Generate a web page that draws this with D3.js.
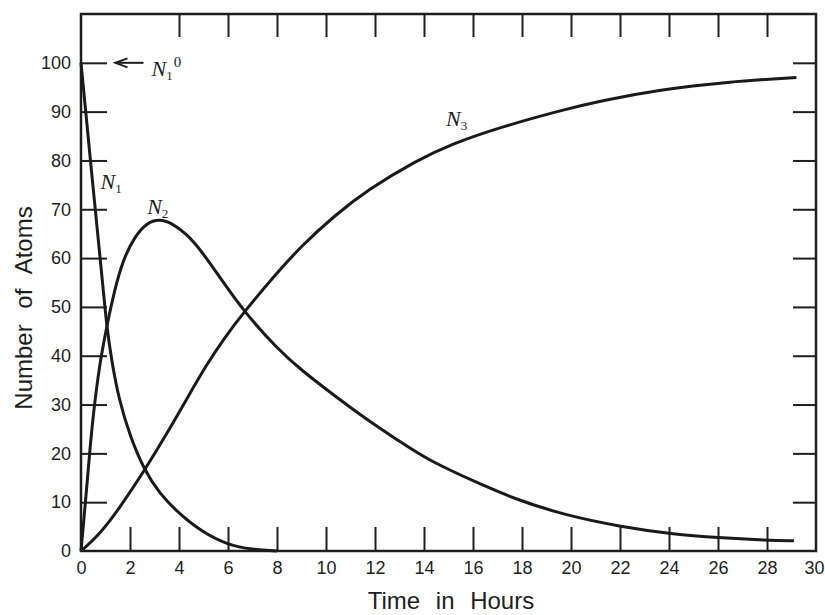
<!DOCTYPE html>
<html lang="en">
<head>
    <meta charset="UTF-8">
    <title>Number of Atoms vs Time</title>
    <script src="https://d3js.org/d3.v7.min.js"></script>
    <style>
        body {
            margin: 0;
            background-color: #fff;
        }
        .frame {
            fill: none;
            stroke: #1e1e1e;
            stroke-width: 2.5px;
        }
        .axis line {
            stroke: #1e1e1e;
            stroke-width: 2px;
        }
        .axis text {
            font-family: "Liberation Sans", Arial, sans-serif;
            font-size: 18px;
            fill: #1e1e1e;
        }
        .curve {
            fill: none;
            stroke: #1a1a1a;
            stroke-width: 3px;
        }
        .axis-title {
            font-family: "Liberation Sans", Arial, sans-serif;
            font-size: 24px;
            word-spacing: 9px;
            fill: #1e1e1e;
        }
        .curve-label {
            font-family: "Liberation Serif", "Times New Roman", serif;
            font-style: italic;
            font-size: 22px;
            fill: #1e1e1e;
        }
    </style>
</head>
<body>
    <div id="chart"></div>

    <script>
        // readings (time in hours, number of atoms)
        const n1Time  = [0, 0.5, 0.9, 1.05, 1.25, 1.55, 2.0, 2.58, 3.2, 3.95, 4.9, 6.0, 7.0, 8.0];
        const n1Value = [100, 74, 54, 46, 39, 31, 23.5, 16.6, 11.8, 7.9, 4.0, 1.2, 0.3, 0];

        const n2Time  = [0, 0.2, 0.35, 0.5, 0.75, 1.05, 1.35, 1.7, 2.2, 2.7, 3.2, 3.7, 4.3, 4.9, 5.7, 6.66, 8.0, 9.0, 10.3, 11.7, 13.0, 14.1, 16.2, 17.8, 19.7, 22.1, 24.1, 26.0, 28.0, 29.1];
        const n2Value = [0, 11, 20, 28, 38, 46, 53, 59.5, 64.5, 67.3, 68, 67.2, 65.0, 61.6, 55.8, 49, 41.5, 37, 32, 26.8, 22.5, 18.8, 13.9, 10.5, 7.4, 4.9, 3.5, 2.7, 2.2, 2.1];

        const n3Time  = [0, 0.8, 1.6, 2.58, 3.5, 4.3, 5.1, 5.9, 6.66, 8.0, 9.0, 10.3, 11.7, 13.7, 15.1, 17.1, 19.7, 21.2, 23.6, 26.4, 29.2];
        const n3Value = [0, 3.6, 9, 16.4, 24, 31, 38, 44, 49, 57, 62.5, 68.5, 74, 80, 83.3, 86.8, 90.4, 92.2, 94.5, 96.1, 97];

        const xTicks = d3.range(0, 31, 2);          // 0 .. 30
        const xTopTicks = d3.range(4, 29, 2);       // top edge only has 4 .. 28
        const yTicks = d3.range(0, 101, 10);        // 0 .. 100
        const yRightTicks = d3.range(10, 101, 10);

        const width = 825;
        const height = 615;

        const svg = d3.select("#chart")
            .append("svg")
            .attr("width", width)
            .attr("height", height);

        const x = d3.scaleLinear().domain([0, 30]).range([81, 816]);
        const y = d3.scaleLinear().domain([0, 110]).range([551, 14]);

        // axes, ticks point inwards
        const xAxis = svg.append("g")
            .attr("class", "axis")
            .attr("transform", `translate(0,${y(0)})`)
            .call(d3.axisBottom(x).tickValues(xTicks).tickSizeInner(-24).tickSizeOuter(0).tickPadding(10));

        const yAxis = svg.append("g")
            .attr("class", "axis")
            .attr("transform", `translate(${x(0)},0)`)
            .call(d3.axisLeft(y).tickValues(yTicks).tickSizeInner(-26).tickSizeOuter(0).tickPadding(10));

        svg.append("g")
            .attr("class", "axis")
            .attr("transform", `translate(0,${y(110)})`)
            .call(d3.axisTop(x).tickValues(xTopTicks).tickSizeInner(-23).tickSizeOuter(0).tickFormat(""));

        svg.append("g")
            .attr("class", "axis")
            .attr("transform", `translate(${x(30)},0)`)
            .call(d3.axisRight(y).tickValues(yRightTicks).tickSizeInner(-23).tickSizeOuter(0).tickFormat(""));

        svg.selectAll(".axis .domain").remove();
        // end ticks would sit on the frame anyway
        xAxis.selectAll(".tick").filter(d => d === 0 || d === 30).select("line").remove();
        yAxis.selectAll(".tick").filter(d => d === 0).select("line").remove();
        // keep the last label inside the page
        xAxis.selectAll(".tick").filter(d => d === 30).select("text")
            .attr("text-anchor", "end")
            .attr("x", 824 - x(30));

        // frame
        svg.append("rect")
            .attr("class", "frame")
            .attr("x", x(0))
            .attr("y", y(110))
            .attr("width", x(30) - x(0))
            .attr("height", y(0) - y(110));

        // curves
        const line = d3.line()
            .x(d => x(d[0]))
            .y(d => y(d[1]))
            .curve(d3.curveBasis);

        const series = [
            d3.zip(n1Time, n1Value),
            d3.zip(n2Time, n2Value),
            d3.zip(n3Time, n3Value)
        ];

        svg.append("g")
            .selectAll("path")
            .data(series)
            .join("path")
            .attr("class", "curve")
            .attr("d", line);

        // arrow pointing at the initial amount
        const arrow = svg.append("g")
            .attr("stroke", "#1e1e1e")
            .attr("stroke-width", 2)
            .attr("fill", "none");
        arrow.append("line")
            .attr("x1", x(1.4)).attr("y1", y(100))
            .attr("x2", x(2.55)).attr("y2", y(100));
        arrow.append("path")
            .attr("d", `M${x(1.9)},${y(100) - 4.5}L${x(1.4)},${y(100)}L${x(1.9)},${y(100) + 4.5}`);

        // curve labels
        function curveLabel(tx, ty, sub, sup) {
            const t = svg.append("text")
                .attr("class", "curve-label")
                .attr("x", tx)
                .attr("y", ty)
                .text("N");
            t.append("tspan")
                .attr("font-size", "13px")
                .attr("font-style", "normal")
                .attr("dy", 4)
                .text(sub);
            if (sup) {
                t.append("tspan")
                    .attr("font-size", "15px")
                    .attr("font-style", "normal")
                    .attr("dx", 1)
                    .attr("dy", -13)
                    .text(sup);
            }
        }

        curveLabel(x(0.8), y(74.2), "1");
        curveLabel(x(2.7), y(69), "2");
        curveLabel(x(14.9), y(87), "3");
        curveLabel(x(2.88), y(97.3), "1", "0");

        // axis titles
        svg.append("text")
            .attr("class", "axis-title")
            .attr("text-anchor", "middle")
            .attr("x", x(15.1))
            .attr("y", 609)
            .text("Time in Hours");

        svg.append("text")
            .attr("class", "axis-title")
            .attr("text-anchor", "middle")
            .attr("transform", "translate(32,308) rotate(-90)")
            .text("Number of Atoms");
    </script>
</body>
</html>
